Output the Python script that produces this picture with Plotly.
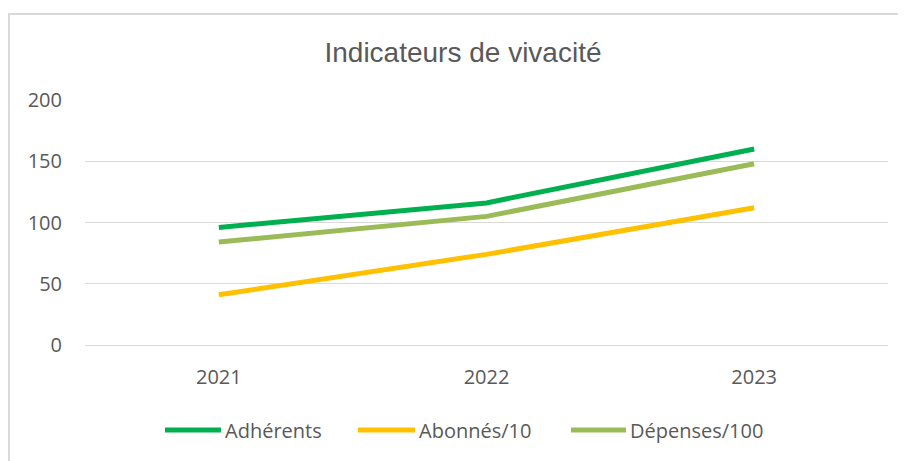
import plotly.graph_objects as go

years = ["2021", "2022", "2023"]
adherents = [96, 116, 160]
abonnes_10 = [41, 74, 112]
depenses_100 = [84, 105, 148]
y_ticks = [0, 50, 100, 150, 200]

series = [
    ("Adhérents", adherents, "#00B050"),
    ("Abonnés/10", abonnes_10, "#FFC000"),
    ("Dépenses/100", depenses_100, "#9BBB59"),
]

# page body has an 8px margin; figure is sized to fit the window
W, H = 898, 453
L, R, T, B = 77, 18, 92, 116
pw, ph = W - L - R, H - T - B


def px(x):
    return (x - L) / pw


def py(y):
    return (H - B - y) / ph


fig = go.Figure()
for name, vals, col in series:
    fig.add_trace(go.Scatter(
        x=years, y=vals, name=name, mode="lines",
        line=dict(color=col, width=5), showlegend=False,
    ))

font_fam = "Open Sans"
grey = "#595959"
fig.update_layout(
    width=W, height=H,
    margin=dict(l=L, r=R, t=T, b=B),
    paper_bgcolor="white", plot_bgcolor="white",
    font=dict(family=font_fam, color=grey, size=20),
    title=dict(text="Indicateurs de vivacité", x=455 / W, xanchor="center",
               y=1 - 44 / H, yanchor="middle",
               font=dict(family="Liberation Sans, Arial", size=28, color=grey)),
    showlegend=False,
    xaxis=dict(type="category", range=[-0.5, 2.5], showgrid=False,
               showline=False, zeroline=False, ticks="",
               ticklabelstandoff=18, tickfont=dict(size=20, color=grey)),
    yaxis=dict(range=[0, 200], tickvals=y_ticks, showgrid=True,
               gridcolor="#D9D9D9", gridwidth=1, zeroline=True,
               zerolinecolor="#D9D9D9", zerolinewidth=1,
               showline=False, ticks="", ticklabelstandoff=22,
               tickfont=dict(size=20, color=grey)),
)

# chart border (top and left edges visible)
fig.add_shape(type="rect", xref="paper", yref="paper",
              x0=px(1), x1=px(W + 20), y0=py(H + 20), y1=py(6),
              line=dict(color="#D9D9D9", width=2), layer="below")

# custom legend
leg_y = py(422)
leg_items = [(157, 213), (350, 407), (563, 618)]
for (x0, x1), (name, vals, col) in zip(leg_items, series):
    fig.add_shape(type="line", xref="paper", yref="paper",
                  x0=px(x0), x1=px(x1), y0=leg_y, y1=leg_y,
                  line=dict(color=col, width=5))
    fig.add_annotation(text=name, xref="paper", yref="paper",
                       x=px(x1 + 2), y=leg_y, xanchor="left", yanchor="middle",
                       showarrow=False, font=dict(size=20, color=grey))

fig.write_html("out.html")
